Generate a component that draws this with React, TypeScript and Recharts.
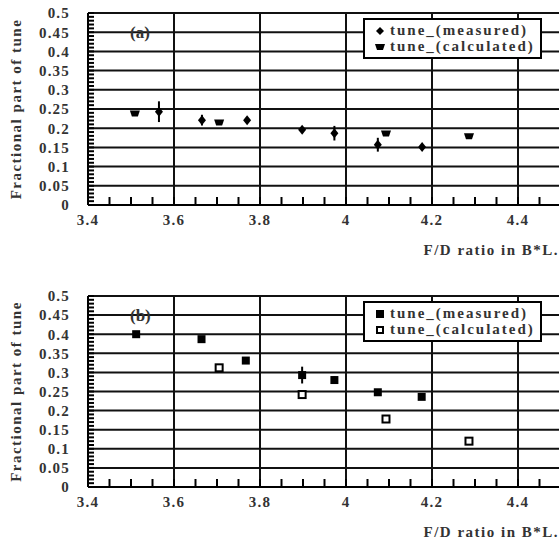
import React from 'react';
import { ScatterChart, Scatter, XAxis, YAxis, CartesianGrid, ErrorBar } from 'recharts';

// panel (a)
const measuredA = [
  { x: 3.565, y: 0.243, err: 0.027 },
  { x: 3.665, y: 0.221, err: 0.014 },
  { x: 3.77, y: 0.221, err: 0 },
  { x: 3.898, y: 0.196, err: 0.005 },
  { x: 3.973, y: 0.187, err: 0.019 },
  { x: 4.074, y: 0.157, err: 0.018 },
  { x: 4.177, y: 0.151, err: 0 },
];
const calculatedA = [
  { x: 3.509, y: 0.238 },
  { x: 3.705, y: 0.215 },
  { x: 4.093, y: 0.186 },
  { x: 4.286, y: 0.179 },
];

// panel (b)
const measuredB = [
  { x: 3.512, y: 0.4, err: 0 },
  { x: 3.664, y: 0.387, err: 0.004 },
  { x: 3.767, y: 0.331, err: 0 },
  { x: 3.898, y: 0.293, err: 0.022 },
  { x: 3.973, y: 0.28, err: 0.01 },
  { x: 4.074, y: 0.248, err: 0.006 },
  { x: 4.176, y: 0.236, err: 0.005 },
];
const calculatedB = [
  { x: 3.705, y: 0.312 },
  { x: 3.898, y: 0.242 },
  { x: 4.093, y: 0.178 },
  { x: 4.286, y: 0.12 },
];

const xDomain = [3.4, 4.5];
const yDomain = [0, 0.5];
const xTicks = [3.4, 3.6, 3.8, 4, 4.2, 4.4];
const yTicks = [0, 0.05, 0.1, 0.15, 0.2, 0.25, 0.3, 0.35, 0.4, 0.45, 0.5];
// every tick mark along the frame (labels only on the major ones)
const xAllTicks = Array.from({ length: 23 }, (_, i) => +(3.4 + i * 0.05).toFixed(2));
const yAllTicks = Array.from({ length: 51 }, (_, i) => +(i * 0.01).toFixed(2));

const font = '"Liberation Serif", "Times New Roman", serif';
const textColor = '#333';
const CHART_W = 600;
const PLOT_RIGHT = 561;
const labelStyle = { fontSize: 15, fontWeight: 'bold', fill: textColor, fontFamily: font, letterSpacing: 1.2 };

// axis ticks: an inward tick mark, plus the label on major values
const XTick = (p: any) => {
  const v = p.payload?.value;
  return (
    <g>
      <line x1={p.x} x2={p.x} y1={p.y} y2={p.y - 8} stroke="#000" strokeWidth={2} />
      {xTicks.includes(v) && (
        <text x={p.x} y={p.y + 9} dy="0.71em" textAnchor="middle" style={labelStyle}>
          {String(v)}
        </text>
      )}
    </g>
  );
};
const YTick = (p: any) => {
  const v = p.payload?.value;
  return (
    <g>
      <line x1={p.x} x2={p.x + 6} y1={p.y} y2={p.y} stroke="#000" strokeWidth={2} />
      {yTicks.includes(v) && (
        <text x={p.x - 18} y={p.y} dy="0.355em" textAnchor="end" style={labelStyle}>
          {String(v)}
        </text>
      )}
    </g>
  );
};

// marker shapes
const diamond = (p: any) => (
  <polygon
    points={`${p.cx},${p.cy - 5} ${p.cx + 4},${p.cy} ${p.cx},${p.cy + 5} ${p.cx - 4},${p.cy}`}
    fill="#000"
  />
);
const trapezoid = (p: any) => (
  <polygon
    points={`${p.cx - 5},${p.cy - 3} ${p.cx + 5},${p.cy - 3} ${p.cx + 3},${p.cy + 3} ${p.cx - 3},${p.cy + 3}`}
    fill="#000"
  />
);
const filledSquare = (p: any) => <rect x={p.cx - 4} y={p.cy - 4} width={8} height={8} fill="#000" />;
const openSquare = (p: any) => (
  <rect x={p.cx - 3.5} y={p.cy - 3.5} width={7} height={7} fill="#fff" stroke="#000" strokeWidth={2} />
);

const LegendMark = ({ kind }: { kind: string }) => (
  <svg width={10} height={10} style={{ marginRight: 5, verticalAlign: 'middle', position: 'relative', top: -1 }}>
    {kind === 'diamond' && <polygon points="5,1 9,5 5,9 1,5" fill="#000" />}
    {kind === 'trapezoid' && <polygon points="0,2 10,2 8,8 2,8" fill="#000" />}
    {kind === 'filled' && <rect x={1} y={1} width={8} height={8} fill="#000" />}
    {kind === 'open' && <rect x={2} y={2} width={6} height={6} fill="#fff" stroke="#000" strokeWidth={2} />}
  </svg>
);

interface PanelProps {
  top: number;
  plotHeight: number;
  tag: string;
  measured: { x: number; y: number; err: number }[];
  calculated: { x: number; y: number }[];
  measuredShape: (p: any) => React.ReactElement;
  calculatedShape: (p: any) => React.ReactElement;
  marks: [string, string];
}

const Panel: React.FC<PanelProps> = ({ top, plotHeight, tag, measured, calculated, measuredShape, calculatedShape, marks }) => {
  const height = 13 + plotHeight + 52;
  return (
    <div style={{ position: 'absolute', left: 0, top, width: 559, height, overflow: 'hidden' }}>
      <ScatterChart width={CHART_W} height={height} margin={{ top: 13, right: CHART_W - PLOT_RIGHT, bottom: 0, left: 0 }}>
        <CartesianGrid stroke="#111" strokeWidth={2} horizontalValues={yTicks} verticalValues={xTicks} />
        <XAxis
          type="number"
          dataKey="x"
          domain={xDomain}
          ticks={xAllTicks}
          interval={0}
          allowDataOverflow
          height={52}
          tickSize={0}
          tickMargin={0}
          tickLine={false}
          axisLine={{ stroke: '#000', strokeWidth: 2 }}
          tick={<XTick />}
          label={{
            value: 'F/D ratio in B*L.',
            position: 'insideBottomRight',
            offset: 2,
            style: { fontSize: 15, fontWeight: 'bold', fill: textColor, fontFamily: font, letterSpacing: 1.5 },
          }}
        />
        <YAxis
          type="number"
          dataKey="y"
          domain={yDomain}
          ticks={yAllTicks}
          interval={0}
          allowDataOverflow
          width={88}
          tickSize={0}
          tickMargin={0}
          tickLine={false}
          axisLine={{ stroke: '#000', strokeWidth: 2 }}
          tick={<YTick />}
          label={{
            value: 'Fractional part of tune',
            angle: -90,
            position: 'insideLeft',
            offset: 16,
            style: { textAnchor: 'middle', fontSize: 15, fontWeight: 'bold', fill: textColor, fontFamily: font, letterSpacing: 1.5 },
          }}
        />
        <Scatter name="measured" data={measured} shape={measuredShape} isAnimationActive={false}>
          <ErrorBar dataKey="err" direction="y" width={0} stroke="#000" strokeWidth={2} />
        </Scatter>
        <Scatter name="calculated" data={calculated} shape={calculatedShape} isAnimationActive={false} />
      </ScatterChart>
      <div
        style={{
          position: 'absolute',
          left: 130,
          top: 23,
          fontFamily: font,
          fontWeight: 'bold',
          fontSize: 17,
          lineHeight: '20px',
          color: textColor,
        }}
      >
        {tag}
      </div>
      <div
        style={{
          position: 'absolute',
          left: 363,
          top: 18,
          width: 165,
          height: 35,
          border: '2px solid #000',
          background: '#fff',
          fontFamily: font,
          fontWeight: 'bold',
          fontSize: 15,
          lineHeight: '16px',
          color: textColor,
          letterSpacing: 2,
          padding: '2px 0 0 10px',
          boxSizing: 'content-box',
          whiteSpace: 'nowrap',
          overflow: 'hidden',
        }}
      >
        <div>
          <LegendMark kind={marks[0]} />
          tune_(measured)
        </div>
        <div>
          <LegendMark kind={marks[1]} />
          tune_(calculated)
        </div>
      </div>
    </div>
  );
};

export default function App() {
  return (
    <div style={{ position: 'absolute', left: 0, top: 0, width: 559, height: 542, background: '#fff', overflow: 'hidden' }}>
      <Panel
        top={0}
        plotHeight={192}
        tag="(a)"
        measured={measuredA}
        calculated={calculatedA}
        measuredShape={diamond}
        calculatedShape={trapezoid}
        marks={['diamond', 'trapezoid']}
      />
      <Panel
        top={283}
        plotHeight={191}
        tag="(b)"
        measured={measuredB}
        calculated={calculatedB}
        measuredShape={filledSquare}
        calculatedShape={openSquare}
        marks={['filled', 'open']}
      />
    </div>
  );
}
